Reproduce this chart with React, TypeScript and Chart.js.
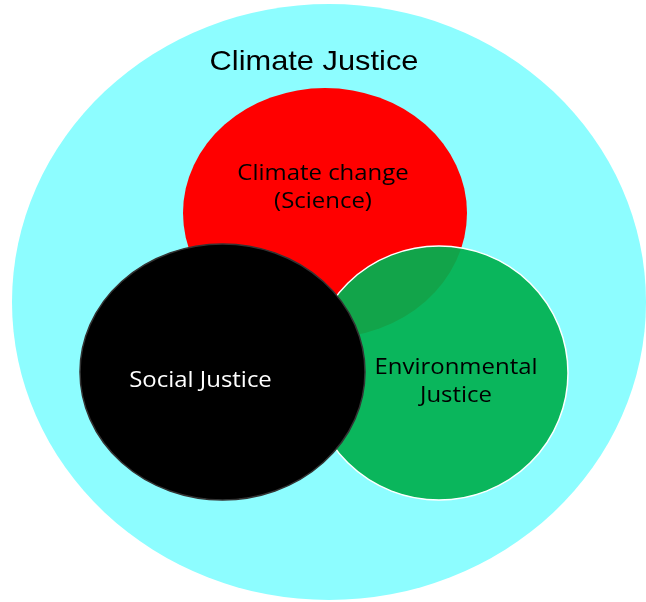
import React, { useEffect, useRef } from "react";
import { Chart, registerables } from "chart.js";

Chart.register(...registerables);

// Venn sets (data units: 0..646 horizontally, 0..602 vertically, y downward)
const setNames = ["Climate Justice", "Climate change (Science)", "Environmental Justice", "Social Justice"];
const centerX = [329, 325, 439, 222.5];
const centerY = [302, 213, 373, 372];
const radiusX = [317, 142, 129, 142.5];
const radiusY = [298, 125, 127, 128];
const fillColors = ["#8DFDFF", "#FF0000", "rgba(0,176,80,0.93)", "#000000"];
const strokeColors = ["rgba(0,0,0,0)", "rgba(0,0,0,0)", "#FFFFFF", "#333333"];

// Labels
const labelLines = [["Climate Justice"], ["Climate change", "(Science)"], ["Environmental", "Justice"], ["Social Justice"]];
const labelX = [314, 323, 456, 200.5];
const labelY = [62, 174, 368, 381];
const labelColors = ["#000000", "#000000", "#000000", "#FFFFFF"];
const labelFonts = [
  "28px 'Liberation Sans', Arial, sans-serif",
  "21px 'Open Sans', sans-serif",
  "21px 'Open Sans', sans-serif",
  "21px 'Open Sans', sans-serif",
];
const labelStretch = [1.1, 1.14, 1.14, 1.14];
const lineGap = 28;

const vennPlugin = {
  id: "venn",
  afterDatasetsDraw(chart: any) {
    const { ctx, scales } = chart;
    const xs = scales.x;
    const ys = scales.y;
    ctx.save();
    for (let i = 0; i < setNames.length; i++) {
      const cx = xs.getPixelForValue(centerX[i]);
      const cy = ys.getPixelForValue(centerY[i]);
      const rx = Math.abs(xs.getPixelForValue(centerX[i] + radiusX[i]) - cx);
      const ry = Math.abs(ys.getPixelForValue(centerY[i] + radiusY[i]) - cy);
      ctx.beginPath();
      ctx.ellipse(cx, cy, rx, ry, 0, 0, Math.PI * 2);
      ctx.fillStyle = fillColors[i];
      ctx.fill();
      ctx.lineWidth = 1.5;
      ctx.strokeStyle = strokeColors[i];
      ctx.stroke();
    }
    for (let i = 0; i < labelLines.length; i++) {
      ctx.font = labelFonts[i];
      ctx.fillStyle = labelColors[i];
      ctx.textAlign = "center";
      ctx.textBaseline = "middle";
      labelLines[i].forEach((line, j) => {
        const px = xs.getPixelForValue(labelX[i]);
        const py = ys.getPixelForValue(labelY[i] + j * lineGap);
        ctx.save();
        ctx.translate(px, py);
        ctx.scale(labelStretch[i], 1);
        ctx.fillText(line, 0, 0);
        ctx.restore();
      });
    }
    ctx.restore();
  },
};

export default function App() {
  const ref = useRef<HTMLCanvasElement | null>(null);
  useEffect(() => {
    if (!ref.current) return;
    const chart = new Chart(ref.current, {
      type: "scatter",
      data: {
        datasets: [
          {
            label: "centers",
            data: centerX.map((x, i) => ({ x, y: centerY[i] })),
            pointRadius: 0,
            pointHoverRadius: 0,
          },
        ],
      },
      options: {
        responsive: false,
        animation: false,
        layout: { padding: 0 },
        plugins: { legend: { display: false }, tooltip: { enabled: false } },
        events: [],
        scales: {
          x: { type: "linear", min: 0, max: 646, display: false },
          y: { type: "linear", min: 0, max: 602, reverse: true, display: false },
        },
      },
      plugins: [vennPlugin],
    });
    return () => chart.destroy();
  }, []);
  return (
    <div style={{ position: "fixed", left: 0, top: 0, width: 646, height: 602, background: "#FFFFFF" }}>
      <canvas ref={ref} width={646} height={602} style={{ display: "block" }} />
    </div>
  );
}
